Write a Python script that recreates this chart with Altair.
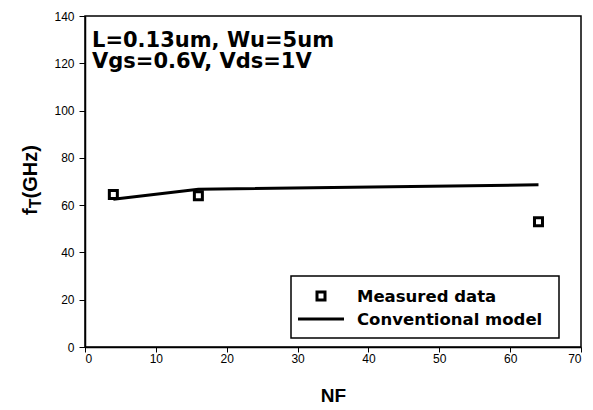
import altair as alt
import pandas as pd

# ---- data ----
nf_measured = [4, 16, 64]
ft_measured = [64.5, 64.0, 53.0]
nf_model = [4, 16, 64]
ft_model = [62.5, 66.7, 68.6]
x_ticks = [0, 10, 20, 30, 40, 50, 60, 70]
y_ticks = [0, 20, 40, 60, 80, 100, 120, 140]
legend_labels = ["Measured data", "Conventional model"]
annotation_lines = ["L=0.13um, Wu=5um", "Vgs=0.6V, Vds=1V"]
x_title = "NF"
y_title_parts = ["f", "T", "(GHz)"]

W, H = 496, 331

measured = pd.DataFrame({"NF": nf_measured, "fT": ft_measured})
model = pd.DataFrame({"NF": nf_model, "fT": ft_model})
one = pd.DataFrame({"k": [0]})

xs = alt.Scale(domain=[0, 70], nice=False)
ys = alt.Scale(domain=[0, 140], nice=False)

common_axis = dict(
    grid=False, domainColor="black", domainWidth=1.5, tickColor="black",
    tickWidth=1, labelColor="black", labelFont="Liberation Sans",
    labelFontSize=12,
)
x_axis = alt.Axis(values=x_ticks, title=x_title, tickSize=5, labelPadding=1,
                  titleFont="Liberation Sans", titleFontSize=19,
                  titleFontWeight="bold", titleColor="black", titlePadding=22,
                  **common_axis)
y_axis = alt.Axis(values=y_ticks, tickSize=6, labelPadding=5, **common_axis)

X = alt.X("NF:Q", scale=xs, axis=x_axis)
Y = alt.Y("fT:Q", scale=ys, axis=y_axis, title=None)

line = alt.Chart(model).mark_line(color="black", strokeWidth=3).encode(x=X, y=Y)
points = alt.Chart(measured).mark_point(
    shape="square", size=64, filled=False, color="black", strokeWidth=3, opacity=1
).encode(x=X, y=Y)

# legend (drawn by hand)
leg_box = alt.Chart(one).mark_rect(fill="white", stroke="black", strokeWidth=1.5).encode(
    x=alt.value(206), x2=alt.value(474), y=alt.value(260), y2=alt.value(322))
leg_sym = alt.Chart(one).mark_point(
    shape="square", size=64, filled=False, color="black", strokeWidth=3, opacity=1
).encode(x=alt.value(236), y=alt.value(280))
leg_line = alt.Chart(one).mark_rule(color="black", strokeWidth=3).encode(
    x=alt.value(213), x2=alt.value(259), y=alt.value(303))
leg_txt_style = dict(align="left", baseline="alphabetic", font="DejaVu Sans",
                     fontSize=16.5, fontWeight="bold", color="black")
leg_t1 = alt.Chart(one).mark_text(text=legend_labels[0], **leg_txt_style).encode(
    x=alt.value(272), y=alt.value(286))
leg_t2 = alt.Chart(one).mark_text(text=legend_labels[1], **leg_txt_style).encode(
    x=alt.value(272), y=alt.value(309))

# annotation
ann_style = dict(align="left", baseline="alphabetic", font="DejaVu Sans",
                 fontSize=21, fontWeight="bold", color="black")
ann1 = alt.Chart(one).mark_text(text=annotation_lines[0], **ann_style).encode(
    x=alt.value(7), y=alt.value(31))
ann2 = alt.Chart(one).mark_text(text=annotation_lines[1], **ann_style).encode(
    x=alt.value(7), y=alt.value(52))

# y title with subscript
yt_style = dict(angle=270, align="left", baseline="alphabetic",
                font="Liberation Sans", fontWeight="bold", color="black")
yt1 = alt.Chart(one).mark_text(text=y_title_parts[0], fontSize=20, **yt_style).encode(
    x=alt.value(-48), y=alt.value(199))
yt2 = alt.Chart(one).mark_text(text=y_title_parts[1], fontSize=16, **yt_style).encode(
    x=alt.value(-44), y=alt.value(192.3))
yt3 = alt.Chart(one).mark_text(text=y_title_parts[2], fontSize=20, **yt_style).encode(
    x=alt.value(-48), y=alt.value(182.5))

chart = alt.layer(
    line, points, leg_box, leg_sym, leg_line, leg_t1, leg_t2, ann1, ann2, yt1, yt2, yt3
).properties(
    width=W, height=H,
    padding={"left": 77, "top": 8, "right": 4, "bottom": 55},
    autosize=alt.AutoSizeParams(type="none"),
    background="white",
).configure_view(stroke="black", strokeWidth=1.5)

chart.save("out.html", embed_options={"renderer": "svg", "actions": False})
